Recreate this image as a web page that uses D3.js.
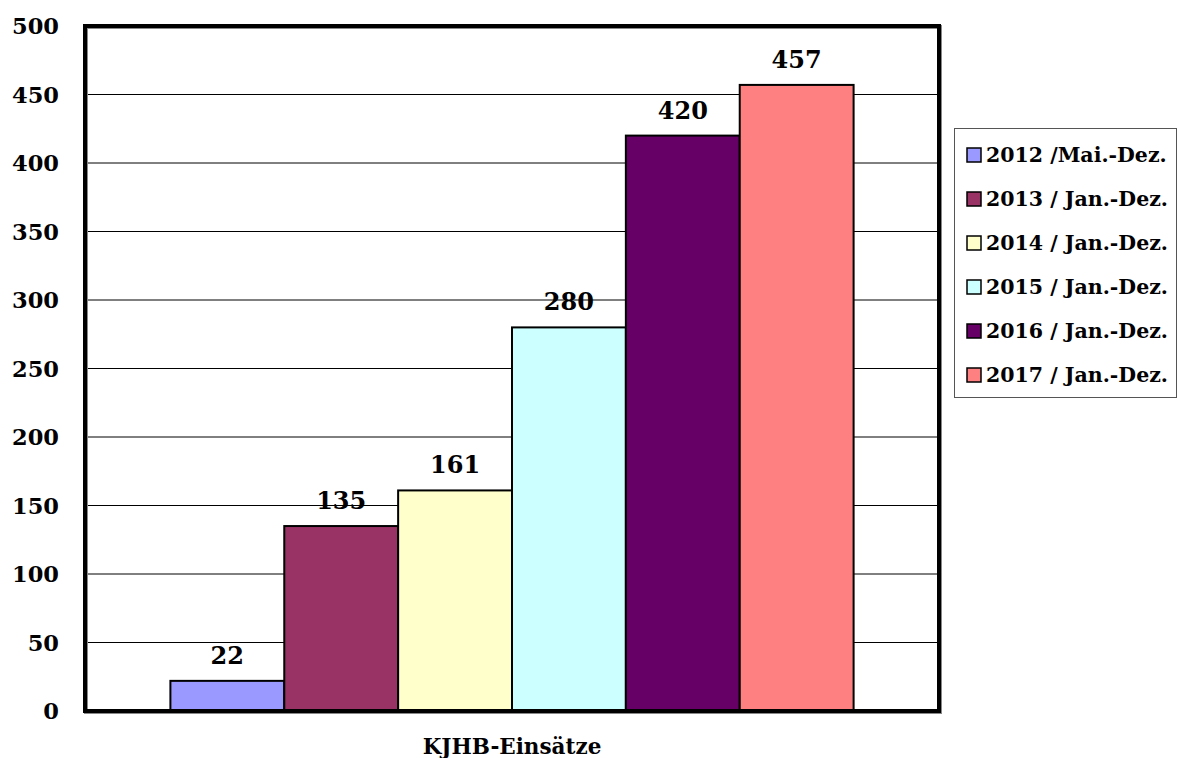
<!DOCTYPE html>
<html>
<head>
<meta charset="utf-8">
<script src="https://cdn.jsdelivr.net/npm/d3@7"></script>
<style>
  body { margin: 0; background: #fff; }
  text { font-family: "DejaVu Serif", "Liberation Serif", serif; font-weight: bold; }
</style>
</head>
<body>
<div id="chart"></div>
<script>
var category = ["KJHB-Einsätze"];
var seriesNames = ["2012 /Mai.-Dez.", "2013 / Jan.-Dez.", "2014 / Jan.-Dez.",
                   "2015 / Jan.-Dez.", "2016 / Jan.-Dez.", "2017 / Jan.-Dez."];
var seriesValues = [22, 135, 161, 280, 420, 457];
var seriesColors = ["#9999ff", "#993366", "#ffffcc", "#ccffff", "#660066", "#ff8080"];
var yTicks = [0, 50, 100, 150, 200, 250, 300, 350, 400, 450, 500];

var WIDTH = 1178, HEIGHT = 758;
var plot = { left: 85, top: 26, right: 939, bottom: 711 };

var svg = d3.select("#chart").append("svg")
    .attr("width", WIDTH)
    .attr("height", HEIGHT);

var x0 = d3.scaleBand()
    .domain(category)
    .range([plot.left, plot.right])
    .paddingInner(0).paddingOuter(0.125);

var x1 = d3.scaleBand()
    .domain(seriesNames)
    .range([0, x0.bandwidth()]);

var y = d3.scaleLinear()
    .domain([0, 500])
    .range([plot.bottom, plot.top]);

// gridlines
svg.append("g")
    .selectAll("line")
    .data(yTicks.slice(1, -1))
    .enter().append("line")
    .attr("x1", plot.left).attr("x2", plot.right)
    .attr("y1", function (d) { return y(d); })
    .attr("y2", function (d) { return y(d); })
    .attr("stroke", "#000")
    .attr("stroke-width", 1);

// y axis labels
var yAxis = d3.axisLeft(y).tickValues(yTicks).tickSize(0).tickPadding(0);
var yg = svg.append("g")
    .attr("transform", "translate(" + 59 + ",0)")
    .call(yAxis);
yg.select(".domain").remove();
yg.selectAll("text")
    .attr("font-size", 22.5)
    .attr("font-family", null)
    .attr("fill", "#000")
    .attr("dy", "0.35em");

// bars
var group = svg.append("g")
    .attr("transform", "translate(" + x0(category[0]) + ",0)");

group.selectAll("rect")
    .data(seriesValues)
    .enter().append("rect")
    .attr("x", function (d, i) { return x1(seriesNames[i]); })
    .attr("y", function (d) { return y(d); })
    .attr("width", x1.bandwidth())
    .attr("height", function (d) { return plot.bottom - y(d); })
    .attr("fill", function (d, i) { return seriesColors[i]; })
    .attr("stroke", "#000")
    .attr("stroke-width", 2);

group.selectAll("text.val")
    .data(seriesValues)
    .enter().append("text")
    .attr("class", "val")
    .attr("x", function (d, i) { return x1(seriesNames[i]) + x1.bandwidth() / 2; })
    .attr("y", function (d) { return y(d) - 17; })
    .attr("text-anchor", "middle")
    .attr("font-size", 24)
    .text(function (d) { return d; });

// plot frame
svg.append("rect")
    .attr("x", plot.left + 1).attr("y", plot.top + 1)
    .attr("width", plot.right - plot.left).attr("height", plot.bottom - plot.top)
    .attr("fill", "none").attr("stroke", "#888").attr("stroke-width", 4);
svg.append("rect")
    .attr("x", plot.left).attr("y", plot.top)
    .attr("width", plot.right - plot.left).attr("height", plot.bottom - plot.top)
    .attr("fill", "none").attr("stroke", "#000").attr("stroke-width", 4);

// category label
svg.append("text")
    .attr("x", x0(category[0]) + x0.bandwidth() / 2)
    .attr("y", 754)
    .attr("text-anchor", "middle")
    .attr("font-size", 21.5)
    .text(category[0]);

// legend
var legend = svg.append("g");
legend.append("rect")
    .attr("x", 954.5).attr("y", 128.5)
    .attr("width", 222).attr("height", 269)
    .attr("fill", "#fff").attr("stroke", "#555").attr("stroke-width", 1);

var item = legend.selectAll("g.item")
    .data(seriesNames)
    .enter().append("g")
    .attr("class", "item")
    .attr("transform", function (d, i) { return "translate(967," + (155 + i * 44) + ")"; });

item.append("rect")
    .attr("x", 0).attr("y", -7)
    .attr("width", 14).attr("height", 14)
    .attr("fill", function (d, i) { return seriesColors[i]; })
    .attr("stroke", "#000").attr("stroke-width", 1.5);

item.append("text")
    .attr("x", 19)
    .attr("dy", "0.35em")
    .attr("font-size", 20.5)
    .text(function (d) { return d; });
</script>
</body>
</html>
